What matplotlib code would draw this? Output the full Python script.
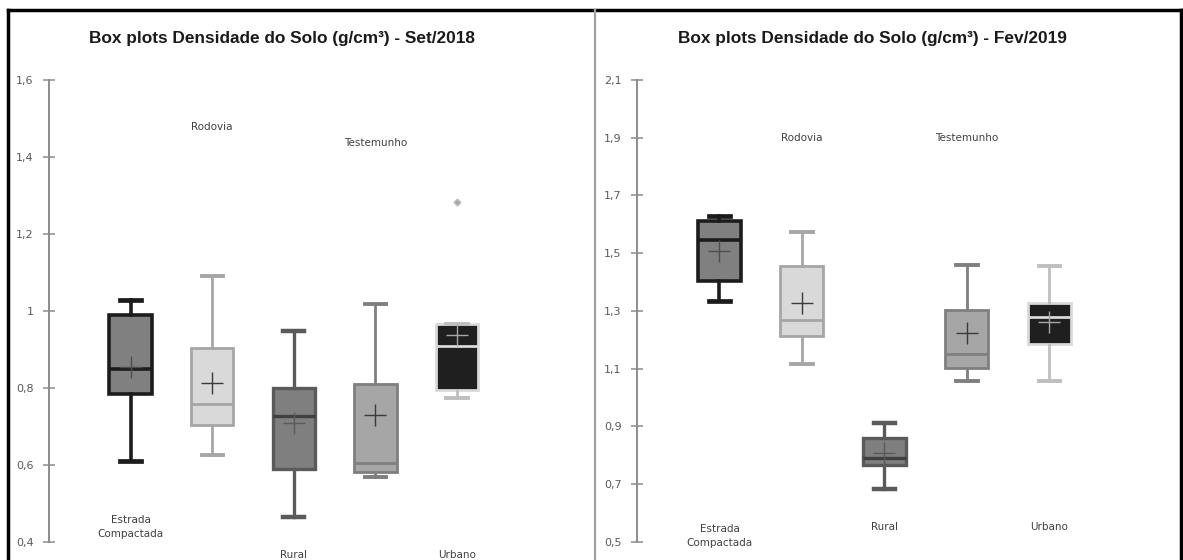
import numpy as np
import matplotlib
matplotlib.use("Agg")
import matplotlib.pyplot as plt
from matplotlib.lines import Line2D
from matplotlib.ticker import FixedLocator, FixedFormatter

categorias = ["Estrada\nCompactada", "Rodovia", "Rural", "Testemunho", "Urbano"]

# Set/2018
q1_2018 = [0.784, 0.704, 0.588, 0.581, 0.795]
med_2018 = [0.850, 0.758, 0.728, 0.604, 0.909]
q3_2018 = [0.988, 0.904, 0.799, 0.811, 0.967]
min_2018 = [0.609, 0.626, 0.465, 0.567, 0.773]
max_2018 = [1.027, 1.090, 0.947, 1.018, 0.967]
media_2018 = [0.855, 0.812, 0.708, 0.730, 0.937]
outliers_2018 = [[], [], [], [], [1.282]]

# Fev/2019
q1_2019 = [1.405, 1.214, 0.766, 1.101, 1.185]
med_2019 = [1.545, 1.270, 0.791, 1.150, 1.278]
q3_2019 = [1.612, 1.456, 0.860, 1.303, 1.326]
min_2019 = [1.334, 1.115, 0.683, 1.058, 1.057]
max_2019 = [1.630, 1.572, 0.910, 1.459, 1.456]
media_2019 = [1.506, 1.326, 0.806, 1.224, 1.262]
outliers_2019 = [[], [], [], [], []]

ticks_2018 = [0.4, 0.6, 0.8, 1.0, 1.2, 1.4, 1.6]
ticklabels_2018 = ["0,4", "0,6", "0,8", "1", "1,2", "1,4", "1,6"]
ticks_2019 = [0.5, 0.7, 0.9, 1.1, 1.3, 1.5, 1.7, 1.9, 2.1]
ticklabels_2019 = ["0,5", "0,7", "0,9", "1,1", "1,3", "1,5", "1,7", "1,9", "2,1"]

# estilo de cada caixa: preenchimento, borda, mediana, bigode, media
estilos = [
    dict(face="#808080", edge="#1c1c1c", med="#1c1c1c", whisk="#1c1c1c", mean="#4d4d4d", lw=2.6),
    dict(face="#d9d9d9", edge="#a6a6a6", med="#a6a6a6", whisk="#a6a6a6", mean="#3a3a3a", lw=2.0),
    dict(face="#7f7f7f", edge="#5a5a5a", med="#404040", whisk="#5a5a5a", mean="#5a5a5a", lw=2.4),
    dict(face="#a6a6a6", edge="#7f7f7f", med="#7f7f7f", whisk="#7f7f7f", mean="#3a3a3a", lw=2.0),
    dict(face="#1f1f1f", edge="#d9d9d9", med="#d9d9d9", whisk="#bfbfbf", mean="#a6a6a6", lw=2.0),
]

W, H = 1183, 560
fig = plt.figure(figsize=(W / 100, H / 100), dpi=100)
fig.patch.set_facecolor("white")

titulo_fonte = dict(family=["Liberation Sans Narrow", "Liberation Sans", "DejaVu Sans"],
                    weight="bold", size=12.4, color="#1a1a1a")


def painel(ax, q1, med, q3, lo, hi, media, outl, ticks, ticklabels, ylim, xmax,
           pos_rotulos):
    stats = []
    for i in range(len(categorias)):
        stats.append(dict(q1=q1[i], med=med[i], q3=q3[i], whislo=lo[i],
                          whishi=hi[i], mean=media[i], fliers=outl[i]))
    pos = np.arange(1, len(categorias) + 1)
    bp = ax.bxp(stats, positions=pos, widths=0.52, capwidths=0.26,
                patch_artist=True, showmeans=True, showfliers=True)
    for i, e in enumerate(estilos):
        bp["boxes"][i].set(facecolor=e["face"], edgecolor=e["edge"], linewidth=e["lw"])
        bp["medians"][i].set(color=e["med"], linewidth=e["lw"])
        for w in bp["whiskers"][2 * i:2 * i + 2]:
            w.set(color=e["whisk"], linewidth=e["lw"])
        for c in bp["caps"][2 * i:2 * i + 2]:
            c.set(color=e["whisk"], linewidth=e["lw"] + 0.8)
        bp["means"][i].set(marker="+", markersize=16, markeredgewidth=1.0,
                           markeredgecolor=e["mean"], markerfacecolor=e["mean"])
        bp["fliers"][i].set(marker="D", markersize=3.5, markerfacecolor="#a6a6a6",
                            markeredgecolor="#bfbfbf")

    ax.set_xlim(0, xmax)
    ax.set_ylim(*ylim)
    for s in ["top", "right", "bottom"]:
        ax.spines[s].set_visible(False)
    ax.spines["left"].set(color="#8c8c8c", linewidth=1.4)
    ax.set_xticks([])
    ax.yaxis.set_major_locator(FixedLocator(ticks))
    ax.yaxis.set_major_formatter(FixedFormatter(ticklabels))
    ax.tick_params(axis="y", direction="inout", length=8, width=1.1, color="#8c8c8c",
                   labelsize=8, labelcolor="#595959", pad=7)

    for nome, x, y in zip(categorias, pos, pos_rotulos):
        ax.text(x, y, nome, ha="center", va="center", fontsize=7.5, color="#404040",
                linespacing=1.6, clip_on=False)


ax1 = fig.add_axes([49 / W, 18.3 / H, 514 / W, 461.7 / H])
painel(ax1, q1_2018, med_2018, q3_2018, min_2018, max_2018, media_2018, outliers_2018,
       ticks_2018, ticklabels_2018, (0.4, 1.6), 6.3,
       [0.438, 1.478, 0.366, 1.437, 0.366])
fig.text(282 / W, 1 - 38 / H, "Box plots Densidade do Solo (g/cm³) - Set/2018",
         ha="center", va="center", **titulo_fonte)

ax2 = fig.add_axes([637 / W, 18.3 / H, 536 / W, 461.7 / H])
painel(ax2, q1_2019, med_2019, q3_2019, min_2019, max_2019, media_2019, outliers_2019,
       ticks_2019, ticklabels_2019, (0.5, 2.1), 6.5,
       [0.520, 1.899, 0.551, 1.899, 0.551])
fig.text(872 / W, 1 - 38 / H, "Box plots Densidade do Solo (g/cm³) - Fev/2019",
         ha="center", va="center", **titulo_fonte)

# moldura externa e divisoria entre os graficos
fig.add_artist(Line2D([8 / W, 1181 / W], [1 - 10 / H, 1 - 10 / H], color="black", lw=2.5))
fig.add_artist(Line2D([8 / W, 8 / W], [0, 1 - 10 / H], color="black", lw=2.5))
fig.add_artist(Line2D([1181 / W, 1181 / W], [0, 1 - 10 / H], color="black", lw=2.5))
fig.add_artist(Line2D([595 / W, 595 / W], [0, 1 - 10 / H], color="#a0a0a0", lw=1.6))

fig.savefig("out.png", dpi=100)
